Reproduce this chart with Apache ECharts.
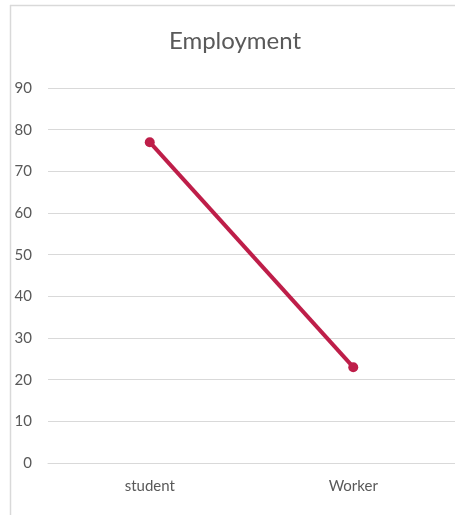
<!DOCTYPE html>
<html><head><meta charset="utf-8">
<script src="https://cdn.jsdelivr.net/npm/echarts@6/dist/echarts.min.js"></script>
<style>html,body{margin:0;padding:0;background:#fff}#c{width:455px;height:515px}</style>
</head><body><div id="c"></div>
<script>
const titleText = 'Employment';
const categories = ['student', 'Worker'];
const values = [77, 23];
const yTicks = { min: 0, max: 90, interval: 10 };

const chart = echarts.init(document.getElementById('c'), null, { renderer: 'canvas' });
const font = 'Lato, "Open Sans", sans-serif';
chart.setOption({
  animation: false,
  backgroundColor: '#ffffff',
  graphic: [
    { type: 'line', shape: { x1: 10.5, y1: 5, x2: 10.5, y2: 520 },
      style: { stroke: '#d9d9d9', lineWidth: 1.5 }, silent: true },
    { type: 'line', shape: { x1: 10, y1: 5.5, x2: 470, y2: 5.5 },
      style: { stroke: '#d9d9d9', lineWidth: 1.5 }, silent: true },
    { type: 'text', x: 235, y: 41,
      style: { text: titleText, font: '24px ' + font, fill: '#595959', textAlign: 'center', textVerticalAlign: 'middle' } }
  ],
  grid: { left: 48, right: -1, top: 88, bottom: 52, containLabel: false },
  xAxis: {
    type: 'category', data: categories, boundaryGap: true,
    axisLine: { show: true, lineStyle: { color: '#d9d9d9', width: 1 } },
    axisTick: { show: false },
    axisLabel: { color: '#595959', fontSize: 15, fontFamily: font, margin: 16 }
  },
  yAxis: {
    type: 'value', min: yTicks.min, max: yTicks.max, interval: yTicks.interval,
    axisLine: { show: false }, axisTick: { show: false },
    splitLine: { lineStyle: { color: '#d9d9d9', width: 1 } },
    axisLabel: { color: '#595959', fontSize: 15, fontFamily: font, margin: 16 }
  },
  series: [{
    type: 'line', data: values,
    symbol: 'circle', symbolSize: 10,
    lineStyle: { color: '#BE1E49', width: 4 },
    itemStyle: { color: '#BE1E49' }
  }]
});
</script></body></html>
